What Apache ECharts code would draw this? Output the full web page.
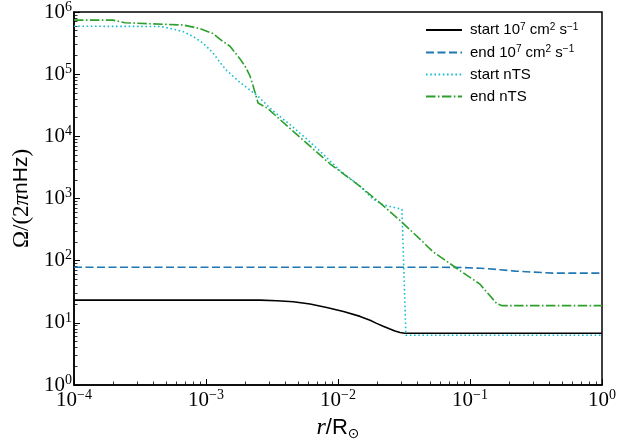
<!DOCTYPE html>
<html><head><meta charset="utf-8">
<script src="https://cdn.jsdelivr.net/npm/echarts@6/dist/echarts.min.js"></script>
<style>html,body{margin:0;padding:0;background:#fff}#c{width:644px;height:446px}</style>
</head><body><div id="c"></div>
<script>
// ---- data ----
const startX = [1e-4, 1e-3, 2.57e-3, 3.44e-3, 4.59e-3, 6.14e-3, 8.21e-3, 1.10e-2, 1.47e-2, 1.75e-2, 1.96e-2, 2.2e-2, 2.45e-2, 2.7e-2, 2.95e-2, 3.2e-2, 1];
const startY = [23.2, 23.2, 23.2, 22.6, 21.8, 20.1, 17.7, 15.2, 12.7, 11.0, 9.8, 8.8, 8.0, 7.4, 7.0, 6.8, 6.8];

const endX = [1e-4, 0.06, 0.09, 0.12, 0.169, 0.22, 0.30, 0.425, 1];
const endY = [78.5, 78.5, 77.5, 75.5, 71.5, 68, 65.5, 63.1, 63.1];

const nStartX = [1e-4, 4.49e-4, 5.34e-4, 6.70e-4, 7.98e-4, 9.49e-4, 1.13e-3, 1.28e-3, 1.44e-3, 1.81e-3, 2.43e-3, 3.22e-3, 4.33e-3, 5.82e-3, 7.69e-3, 1.035e-2, 1.47e-2, 1.84e-2, 2.19e-2, 3.05e-2, 3.27e-2, 1];
const nStartY = [5.9e5, 5.85e5, 5.46e5, 4.84e5, 4.04e5, 3.17e5, 2.2e5, 1.53e5, 1.14e5, 7.35e4, 4.58e4, 2.56e4, 1.55e4, 8.97e3, 5.21e3, 2.81e3, 1.57e3, 982, 791, 671, 6.3, 6.3];

const nEndX = [1e-4, 1.97e-4, 2.43e-4, 3.77e-4, 6.70e-4, 9.0e-4, 1.13e-3, 1.28e-3, 1.52e-3, 1.81e-3, 1.97e-3, 2.15e-3, 2.27e-3, 2.48e-3, 2.90e-3, 5.15e-3, 8.69e-3, 1.47e-2, 2.08e-2, 2.95e-2, 4.18e-2, 5.25e-2, 7.97e-2, 0.119, 0.128, 0.160, 0.175, 1];
const nEndY = [7.4e5, 7.4e5, 6.72e5, 6.47e5, 6.18e5, 5.4e5, 4.5e5, 3.62e5, 2.81e5, 1.76e5, 1.36e5, 9.46e4, 6.59e4, 3.43e4, 2.86e4, 9.64e3, 3.62e3, 1.57e3, 849, 443, 222, 139, 74.8, 41.9, 34.9, 20.3, 18.9, 18.9];

const seriesNames = ['start 10^7 cm^2 s^-1', 'end 10^7 cm^2 s^-1', 'start nTS', 'end nTS'];
const legendLabels = [
  '{n|start 10}{s|7}{n| cm}{s|2}{n| s}{s|\u22121}',
  '{n|end 10}{s|7}{n| cm}{s|2}{n| s}{s|\u22121}',
  '{n|start nTS}',
  '{n|end nTS}'
];

// ---- helpers ----
const zip = (xs, ys) => xs.map((x, i) => [x, ys[i]]);
const SERIF = '"Liberation Serif", "DejaVu Serif", serif';
const SANS = '"Liberation Sans", "DejaVu Sans", sans-serif';

function powLabel(v) {
  const e = Math.round(Math.log10(v));
  return '{b|10}{e|' + (e < 0 ? '\u2212' + (-e) : String(e)) + '}';
}
const tickRich = {
  b: { fontFamily: SERIF, fontSize: 21, lineHeight: 24, color: '#000' },
  e: { fontFamily: SERIF, fontSize: 14, lineHeight: 14, verticalAlign: 'top', color: '#000' }
};

const chart = echarts.init(document.getElementById('c'), null, { renderer: 'canvas' });
const lineBase = { type: 'line', showSymbol: false, symbol: 'none', smooth: false, animation: false, z: 3 };

const axisCommon = {
  axisLine: { show: true, lineStyle: { color: '#000', width: 1.5 } },
  axisTick: { show: true, inside: true, length: 6, lineStyle: { color: '#000', width: 1 } },
  minorTick: { show: true, splitNumber: 9, length: 3.5, lineStyle: { color: '#000', width: 0.8 } },
  splitLine: { show: false },
  minorSplitLine: { show: false }
};

chart.setOption({
  animation: false,
  backgroundColor: '#fff',
  grid: { left: 74, right: 42, top: 5, bottom: 60, show: true, borderColor: '#000', borderWidth: 1.5, backgroundColor: 'transparent' },
  legend: {
    orient: 'vertical', left: 420, top: 17, itemWidth: 36, itemHeight: 14, itemGap: 7,
    selectedMode: false,
    data: seriesNames,
    itemStyle: { opacity: 0 },
    formatter: name => legendLabels[seriesNames.indexOf(name)],
    textStyle: {
      color: '#000', padding: [0, 0, 0, 3],
      rich: {
        n: { fontFamily: SANS, fontSize: 15, lineHeight: 16, color: '#000' },
        s: { fontFamily: SANS, fontSize: 10, lineHeight: 10, verticalAlign: 'top', color: '#000' }
      }
    }
  },
  xAxis: Object.assign({
    type: 'log', logBase: 10, min: 1e-4, max: 1, interval: 1,
    axisLabel: { margin: 3, formatter: powLabel, rich: tickRich, showMinLabel: true, showMaxLabel: true },
    name: '{i|r}{t|/R}{u|\u2299}', nameLocation: 'middle', nameGap: 30,
    nameTextStyle: {
      rich: {
        i: { fontFamily: SERIF, fontStyle: 'italic', fontSize: 24, lineHeight: 26, color: '#000' },
        t: { fontFamily: SANS, fontSize: 22, lineHeight: 26, color: '#000' },
        u: { fontFamily: '"DejaVu Sans", sans-serif', fontSize: 14, lineHeight: 14, verticalAlign: 'bottom', color: '#000' }
      }
    }
  }, axisCommon),
  yAxis: Object.assign({
    type: 'log', logBase: 10, min: 1, max: 1e6, interval: 1,
    axisLabel: { margin: 2, formatter: powLabel, rich: tickRich, showMinLabel: true, showMaxLabel: true },
    name: '{s|\u03a9/(2}{i|\u03c0}{n|nHz}{s|)}', nameLocation: 'middle', nameGap: 32, nameRotate: 90,
    nameTextStyle: {
      rich: {
        s: { fontFamily: SERIF, fontSize: 23, lineHeight: 26, color: '#000' },
        i: { fontFamily: SERIF, fontStyle: 'italic', fontSize: 23, lineHeight: 26, color: '#000' },
        n: { fontFamily: SANS, fontSize: 21, lineHeight: 26, color: '#000' }
      }
    }
  }, axisCommon),
  series: [
    Object.assign({}, lineBase, { name: seriesNames[0], data: zip(startX, startY), lineStyle: { color: '#000000', width: 1.6, type: 'solid' }, itemStyle: { color: '#000000' } }),
    Object.assign({}, lineBase, { name: seriesNames[1], data: zip(endX, endY), lineStyle: { color: '#1f77b4', width: 1.6, type: [8, 3.5] }, itemStyle: { color: '#1f77b4' } }),
    Object.assign({}, lineBase, { name: seriesNames[2], data: zip(nStartX, nStartY), lineStyle: { color: '#17becf', width: 1.6, type: [1.6, 2.6] }, itemStyle: { color: '#17becf' } }),
    Object.assign({}, lineBase, { name: seriesNames[3], data: zip(nEndX, nEndY), lineStyle: { color: '#2ca02c', width: 1.6, type: [9.5, 2.4, 1.6, 2.4] }, itemStyle: { color: '#2ca02c' } })
  ]
});
</script>
</body></html>
